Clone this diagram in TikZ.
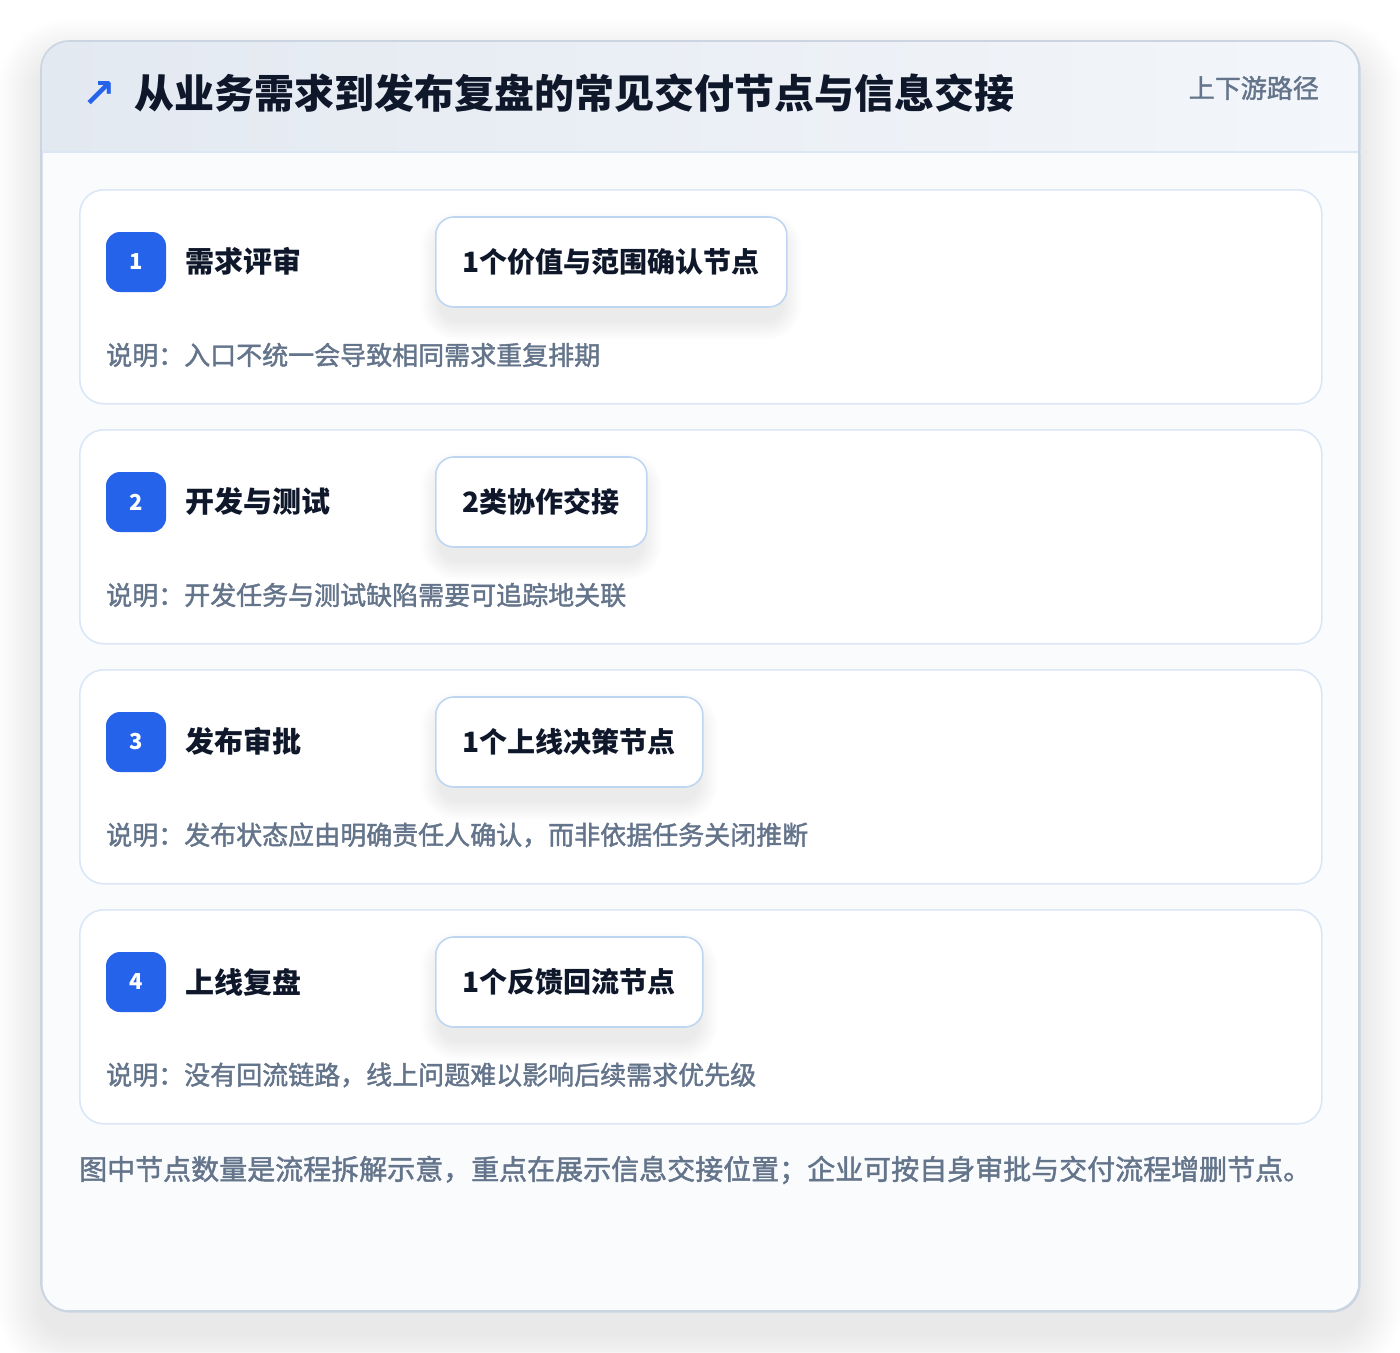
\documentclass[tikz,border=0pt]{standalone}
\usepackage{fontspec}
\setmainfont{Noto Sans CJK SC}
\newfontfamily\symfont{DejaVu Sans}
\newfontfamily\medfont{Noto Sans CJK SC}[FakeBold=1.6]
\definecolor{cardborder}{HTML}{CBD5E1}
\definecolor{headL}{HTML}{E3E9F1}
\definecolor{headR}{HTML}{F3F6FA}
\definecolor{headline}{HTML}{DCE7F5}
\definecolor{bodyfill}{HTML}{FAFBFD}
\definecolor{stageborder}{HTML}{DBE7F8}
\definecolor{pillborder}{HTML}{BFD6F3}
\definecolor{badgeblue}{HTML}{2563EB}
\definecolor{ink}{HTML}{0F172A}
\definecolor{slate}{HTML}{64748B}
\definecolor{shadowc}{HTML}{334155}
\pgfdeclarelayer{back}
\pgfdeclarelayer{cards}
\pgfdeclarelayer{pshadow}
\pgfsetlayers{back,cards,pshadow,main}
\tikzset{
  outercard/.style={draw=cardborder, fill=bodyfill, line width=1.6pt, rounded corners=28pt, minimum width=1318pt, minimum height=1270pt, inner sep=0pt, anchor=north west},
  stagecard/.style={draw=stageborder, fill=white, line width=1.6pt, rounded corners=24pt, minimum width=1242pt, minimum height=214pt, inner sep=0pt, anchor=north west},
  badge/.style={fill=badgeblue, rounded corners=14pt, minimum width=60pt, minimum height=60pt, inner sep=0pt, text=white, font=\fontsize{22}{26}\selectfont\bfseries},
  stagetitle/.style={anchor=west, inner sep=0pt, text=ink, font=\fontsize{29}{34}\selectfont\bfseries},
  pill/.style={draw=pillborder, fill=white, line width=1.6pt, rounded corners=18pt, minimum height=90pt, inner xsep=27pt, inner ysep=0pt, anchor=west, text=ink, font=\fontsize{28}{34}\selectfont\bfseries},
  desc/.style={anchor=west, inner sep=0pt, text=slate, font=\fontsize{26}{30}\selectfont\medfont},
  titletext/.style={anchor=west, inner sep=0pt, text=ink, font=\fontsize{40}{48}\selectfont\bfseries},
  tagtext/.style={anchor=east, inner sep=0pt, text=slate, font=\fontsize{26}{30}\selectfont\medfont},
  foot/.style={anchor=west, inner sep=0pt, text=slate, font=\fontsize{28}{32}\selectfont\medfont},
}
\newcommand\pillshadow[1]{%
  \begin{pgfonlayer}{pshadow}
  \foreach \k in {0,2,...,18}{%
    \pgfmathsetmacro\rr{18+\k}
    \fill[shadowc,opacity=0.006,rounded corners=\rr pt] ([shift={(-\k+4,14-\k)}]#1.north west) rectangle ([shift={(\k-4,14+\k)}]#1.south east);
  }
  \end{pgfonlayer}}
\begin{document}
\begin{tikzpicture}[x=1pt,y=-1pt]
\useasboundingbox (0,0) rectangle (1400,1352);
\begin{pgfonlayer}{back}
\fill[white] (0,0) rectangle (1400,1352);
% outer shadow
\foreach \d in {2,4,...,44}{%
  \pgfmathsetmacro\rr{28+\d}
  \fill[shadowc,opacity=0.0032,rounded corners=\rr pt] (41-\d,63-\d) rectangle (1359+\d,1333+\d);
}
% outer card
\node[outercard] (card) at (41,41) {};
\begin{scope}
  \clip[rounded corners=28pt] (41,41) rectangle (1359,1311);
  \shade[left color=headL, right color=headR] (41,41) rectangle (1359,152);
\end{scope}
\draw[headline, line width=1.6pt] (card.west |- 0,152) coordinate (hl) -- (card.east |- 0,152) coordinate (hr);
\draw[cardborder, line width=1.6pt, rounded corners=28pt] (41,41) rectangle (1359,1311);
\end{pgfonlayer}
% header
\node[anchor=center, inner sep=0pt, text=badgeblue, font=\fontsize{40}{44}\selectfont\symfont\bfseries] (arrow) at (99,94) {↗};
\node[titletext] (title) at (134,93) {从业务需求到发布复盘的常见交付节点与信息交接};
\node[tagtext] (tag) at (1319,88) {上下游路径};
% stages
\begin{pgfonlayer}{cards}
\node[stagecard] (s1) at (79,189) {};
\node[stagecard] (s2) at (79,429) {};
\node[stagecard] (s3) at (79,669) {};
\node[stagecard] (s4) at (79,909) {};
\end{pgfonlayer}
% stage 1
\node[badge] (b1) at (136,262) {1};
\node[stagetitle] (t1) at (185,261) {需求评审};
\node[pill] (p1) at (435,262) {1个价值与范围确认节点};
\pillshadow{p1}
\node[desc] (d1) at (106,355) {说明：入口不统一会导致相同需求重复排期};
% stage 2
\node[badge] (b2) at (136,502) {2};
\node[stagetitle] (t2) at (185,501) {开发与测试};
\node[pill] (p2) at (435,502) {2类协作交接};
\pillshadow{p2}
\node[desc] (d2) at (106,595) {说明：开发任务与测试缺陷需要可追踪地关联};
% stage 3
\node[badge] (b3) at (136,742) {3};
\node[stagetitle] (t3) at (185,741) {发布审批};
\node[pill] (p3) at (435,742) {1个上线决策节点};
\pillshadow{p3}
\node[desc] (d3) at (106,835) {说明：发布状态应由明确责任人确认，而非依据任务关闭推断};
% stage 4
\node[badge] (b4) at (136,982) {4};
\node[stagetitle] (t4) at (185,982) {上线复盘};
\node[pill] (p4) at (435,982) {1个反馈回流节点};
\pillshadow{p4}
\node[desc] (d4) at (106,1075) {说明：没有回流链路，线上问题难以影响后续需求优先级};
% footer
\node[foot] (foot) at (79,1170) {图中节点数量是流程拆解示意，重点在展示信息交接位置；企业可按自身审批与交付流程增删节点。};
\end{tikzpicture}
\end{document}
